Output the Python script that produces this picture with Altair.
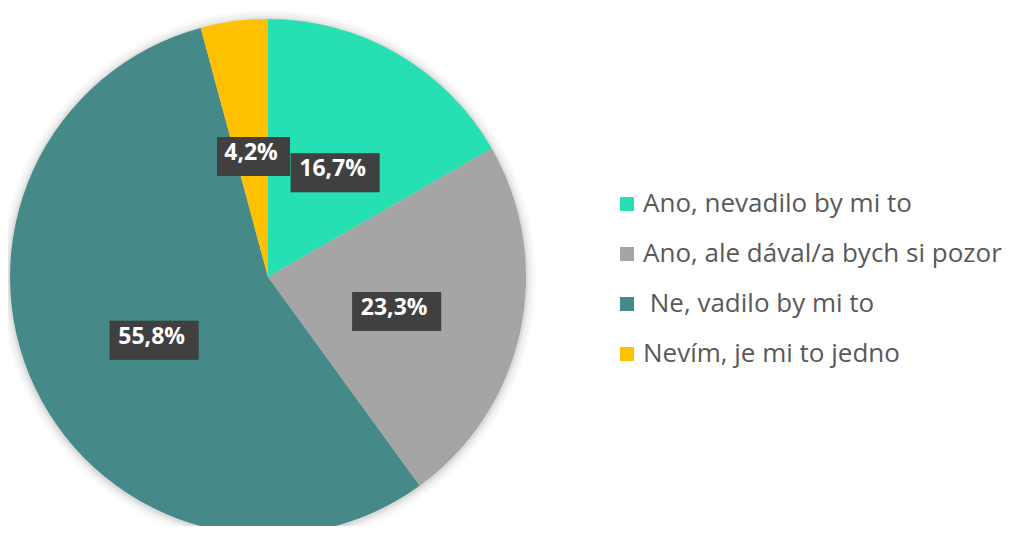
import math
import altair as alt
import pandas as pd

categories = ["Ano, nevadilo by mi to", "Ano, ale dával/a bych si pozor",
              "\u200b\u00a0Ne, vadilo by mi to", "Nevím, je mi to jedno"]
values = [16.7, 23.3, 55.8, 4.2]
labels = ["16,7%", "23,3%", "55,8%", "4,2%"]
colors = ["#26E0B3", "#A5A5A5", "#458A88", "#FFC000"]

CX, CY, R = 260, 269, 258

df = pd.DataFrame({"cat": categories, "value": values, "label": labels,
                   "order": list(range(len(values)))})
total = sum(values)
cum = 0.0
ux, uy = [], []
for v in values:
    mid = (cum + v / 2) / total * 2 * math.pi
    ux.append(0.5 * math.sin(mid))
    uy.append(0.5 * math.cos(mid))
    cum += v
df["ux"] = ux
df["uy"] = uy
df["len"] = [len(s) for s in labels]

xs = alt.Scale(domain=[-1, 1], range=[CX - R, CX + R])
ys = alt.Scale(domain=[-1, 1], range=[CY + R + 4, CY - R + 4])

dummy = pd.DataFrame({"k": [0]})
shadows = []
for extra, op in [(2, 0.05), (4, 0.04), (7, 0.03), (10, 0.02)]:
    shadows.append(
        alt.Chart(dummy).mark_arc(theta=0, theta2=2 * math.pi, outerRadius=R + extra,
                                  color="#000000", opacity=op)
        .encode(x=alt.value(CX), y=alt.value(CY + 1))
    )

pie = alt.Chart(df).mark_arc(outerRadius=R).encode(
    theta=alt.Theta("value:Q", stack=True),
    order=alt.Order("order:Q"),
    color=alt.Color("cat:N", scale=alt.Scale(domain=categories, range=colors),
                    legend=alt.Legend(title=None, orient="none", legendX=606, legendY=183,
                                      symbolType="square", symbolSize=196,
                                      symbolStrokeWidth=0, labelFont="Open Sans",
                                      labelFontSize=26, labelColor="#595959",
                                      rowPadding=24, labelOffset=3, labelLimit=600,
                                      padding=0)),
    x=alt.value(CX), y=alt.value(CY),
)

p4 = "M-36,-19H36V19H-36Z"
p5 = "M-44,-19H44V19H-44Z"
s4 = "M-34,-16H39V23H-34Z"
s5 = "M-42,-16H47V23H-42Z"

box_shadow = alt.Chart(df).mark_point(filled=True, size=4, color="#000000",
                                      opacity=0.18, strokeWidth=0).encode(
    x=alt.X("ux:Q", scale=xs, axis=None),
    y=alt.Y("uy:Q", scale=ys, axis=None),
    shape=alt.Shape("len:O", scale=alt.Scale(domain=[4, 5], range=[s4, s5]), legend=None),
)

boxes = alt.Chart(df).mark_point(filled=True, size=4, color="#404040",
                                 opacity=1, strokeWidth=0).encode(
    x=alt.X("ux:Q", scale=xs, axis=None),
    y=alt.Y("uy:Q", scale=ys, axis=None),
    shape=alt.Shape("len:O", scale=alt.Scale(domain=[4, 5], range=[p4, p5]), legend=None),
)

texts = alt.Chart(df).mark_text(font="Open Sans", fontWeight="bold", fontSize=23,
                                color="#FFFFFF", baseline="middle", align="center").encode(
    x=alt.X("ux:Q", scale=xs, axis=None),
    y=alt.Y("uy:Q", scale=ys, axis=None),
    text="label:N",
)

chart = alt.layer(*shadows, pie, box_shadow, boxes, texts).properties(
    width=1004, height=518,
    autosize=alt.AutoSizeParams(type="none"),
    padding={"left": 0, "top": 0, "right": 0, "bottom": 0},
    background="#FFFFFF",
).configure_view(stroke=None)

chart.save("out.html", embed_options={"renderer": "svg", "actions": False})
